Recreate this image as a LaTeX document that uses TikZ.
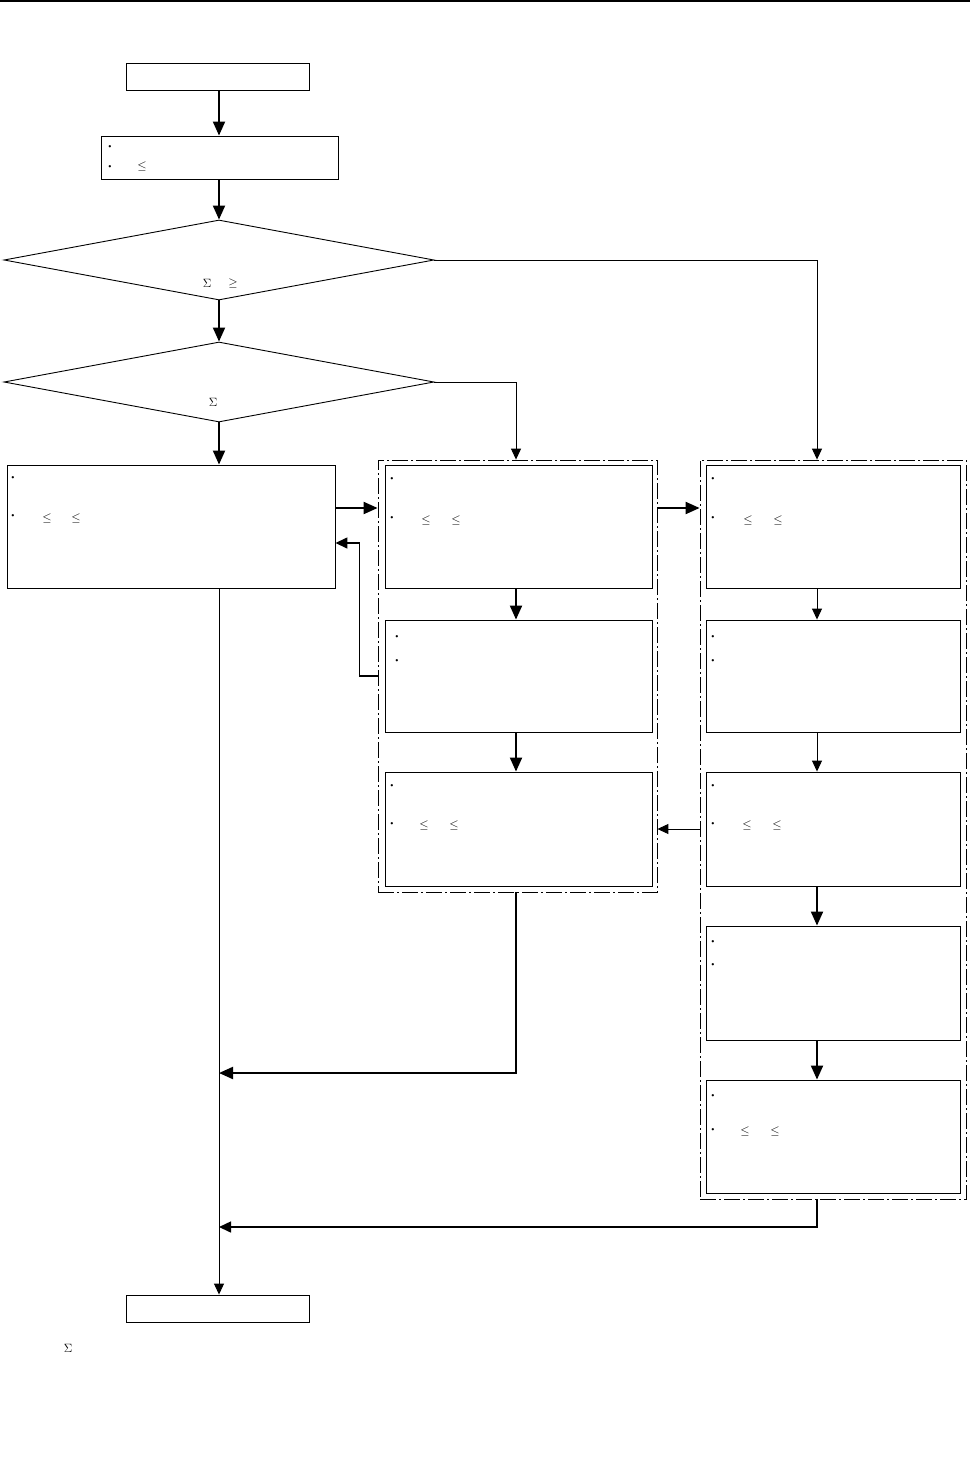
\documentclass[tikz,border=0pt]{standalone}
\usetikzlibrary{arrows.meta,shapes.geometric,calc}
\begin{document}
\begin{tikzpicture}[x=1pt,y=-1pt,
  box/.style={draw,line width=0.9pt,rectangle,inner sep=0pt},
  frame/.style={draw,line width=0.8pt,rectangle,inner sep=0pt,dash pattern=on 16pt off 3pt on 2pt off 3pt},
  dec/.style={draw,line width=0.9pt,diamond,inner sep=0pt},
  thin/.style={line width=1pt,-{Triangle[length=11pt,width=10pt]}},
  thick/.style={line width=2pt,-{Triangle[length=14pt,width=12pt]}},
  mid/.style={line width=1.5pt,-{Triangle[length=12pt,width=11pt]}},
  bul/.style={inner sep=0pt,font=\fontsize{8}{8}\selectfont},
  sym/.style={inner sep=0pt,font=\fontsize{12}{12}\selectfont}]
\useasboundingbox (0,0) rectangle (970,1474);
\fill (0,0) rectangle (970,2.5);
% columns
\coordinate (colL) at (219,0);
\coordinate (colM) at (516,0);
\coordinate (colR) at (817,0);
\coordinate (yA) at (0,508);
\coordinate (yB) at (0,543);
\coordinate (yF) at (0,676);
\coordinate (yG) at (0,1073);
\coordinate (yH) at (0,1227);
% frames
\node[frame,minimum width=279pt,minimum height=432pt] (Mf) at (517.5,676) {};
\node[frame,minimum width=266pt,minimum height=739pt] (Rf) at (833,829.5) {};
% nodes
\node[box,minimum width=183pt,minimum height=27pt] (start) at (217.5,76.5) {};
\node[box,minimum width=237pt,minimum height=43pt] (b2) at (219.5,157.5) {};
\node[dec,minimum width=430pt,minimum height=80pt] (d1) at (219,260) {};
\node[dec,minimum width=430pt,minimum height=80pt] (d2) at (219,382) {};
\node[box,minimum width=328pt,minimum height=123pt] (L) at (171,526.5) {};
\node[box,minimum width=267pt,minimum height=123pt] (M1) at (518.5,526.5) {};
\node[box,minimum width=267pt,minimum height=112pt] (M2) at (518.5,676) {};
\node[box,minimum width=267pt,minimum height=114pt] (M3) at (518.5,829) {};
\node[box,minimum width=254pt,minimum height=123pt] (R1) at (833,526.5) {};
\node[box,minimum width=254pt,minimum height=112pt] (R2) at (833,676) {};
\node[box,minimum width=254pt,minimum height=114pt] (R3) at (833,829) {};
\node[box,minimum width=254pt,minimum height=114pt] (R4) at (833,983) {};
\node[box,minimum width=254pt,minimum height=113pt] (R5) at (833,1136.5) {};
\node[box,minimum width=183pt,minimum height=27pt] (end) at (217.5,1308.5) {};
% texts
\node[bul] (t1) at (110,147) {\textbullet};
\node[bul] (t2) at (110,167) {\textbullet};
\node[sym] (t3) at (142,167) {$\leq$};
\node[sym] (t4) at (207,283) {$\Sigma$};
\node[sym] (t5) at (233,283) {$\geq$};
\node[sym] (t6) at (213,402) {$\Sigma$};
\node[bul] (t7) at (13,478) {\textbullet};
\node[bul] (t8) at (13,516) {\textbullet};
\node[sym] (t9) at (47,518) {$\leq$};
\node[sym] (t10) at (76,518) {$\leq$};
\node[bul] (t11) at (392,479) {\textbullet};
\node[bul] (t12) at (392,518) {\textbullet};
\node[sym] (t13) at (426,520) {$\leq$};
\node[sym] (t14) at (456,520) {$\leq$};
\node[bul] (t15) at (397,637) {\textbullet};
\node[bul] (t16) at (397,661) {\textbullet};
\node[bul] (t17) at (392,786) {\textbullet};
\node[bul] (t18) at (392,824) {\textbullet};
\node[sym] (t19) at (424,825) {$\leq$};
\node[sym] (t20) at (454,825) {$\leq$};
\node[bul] (t21) at (713,479) {\textbullet};
\node[bul] (t22) at (713,518) {\textbullet};
\node[sym] (t23) at (748,520) {$\leq$};
\node[sym] (t24) at (778,520) {$\leq$};
\node[bul] (t25) at (713,637) {\textbullet};
\node[bul] (t26) at (713,661) {\textbullet};
\node[bul] (t27) at (713,786) {\textbullet};
\node[bul] (t28) at (713,824) {\textbullet};
\node[sym] (t29) at (747,825) {$\leq$};
\node[sym] (t30) at (777,825) {$\leq$};
\node[bul] (t31) at (713,942) {\textbullet};
\node[bul] (t32) at (713,965) {\textbullet};
\node[bul] (t33) at (713,1096) {\textbullet};
\node[bul] (t34) at (713,1130) {\textbullet};
\node[sym] (t35) at (745,1131) {$\leq$};
\node[sym] (t36) at (775,1131) {$\leq$};
\node[sym] (t37) at (68,1348) {$\Sigma$};
% connectors
\draw[thick] (start.south -| colL) -- (b2.north -| colL);
\draw[thick] (b2.south -| colL) -- (d1.north -| colL);
\draw[thick] (d1.south -| colL) -- (d2.north -| colL);
\draw[thick] (d2.south -| colL) -- (L.north -| colL);
\draw[thin] (d1.east) -- (d1.east -| colR) -- (Rf.north -| colR);
\draw[thin] (d2.east) -- (d2.east -| colM) -- (Mf.north -| colM);
\draw[thick] (L.east |- yA) -- (Mf.west |- yA);
\draw[thick] (Mf.east |- yA) -- (Rf.west |- yA);
\draw[mid] (Mf.west |- yF) -- ++(-18,0) |- (L.east |- yB);
\draw[thick] (M1.south -| colM) -- (M2.north -| colM);
\draw[thick] (M2.south -| colM) -- (M3.north -| colM);
\draw[thin] (R1.south -| colR) -- (R2.north -| colR);
\draw[thin] (R2.south -| colR) -- (R3.north -| colR);
\draw[thick] (R3.south -| colR) -- (R4.north -| colR);
\draw[thick] (R4.south -| colR) -- (R5.north -| colR);
\draw[thin] (Rf.west |- R3) -- (Mf.east |- R3);
\draw[thick] (Mf.south -| colM) -- (colM |- yG) -- (colL |- yG);
\draw[mid] (Rf.south -| colR) -- (colR |- yH) -- (colL |- yH);
\draw[thin] (L.south -| colL) -- (end.north -| colL);
\end{tikzpicture}
\end{document}
